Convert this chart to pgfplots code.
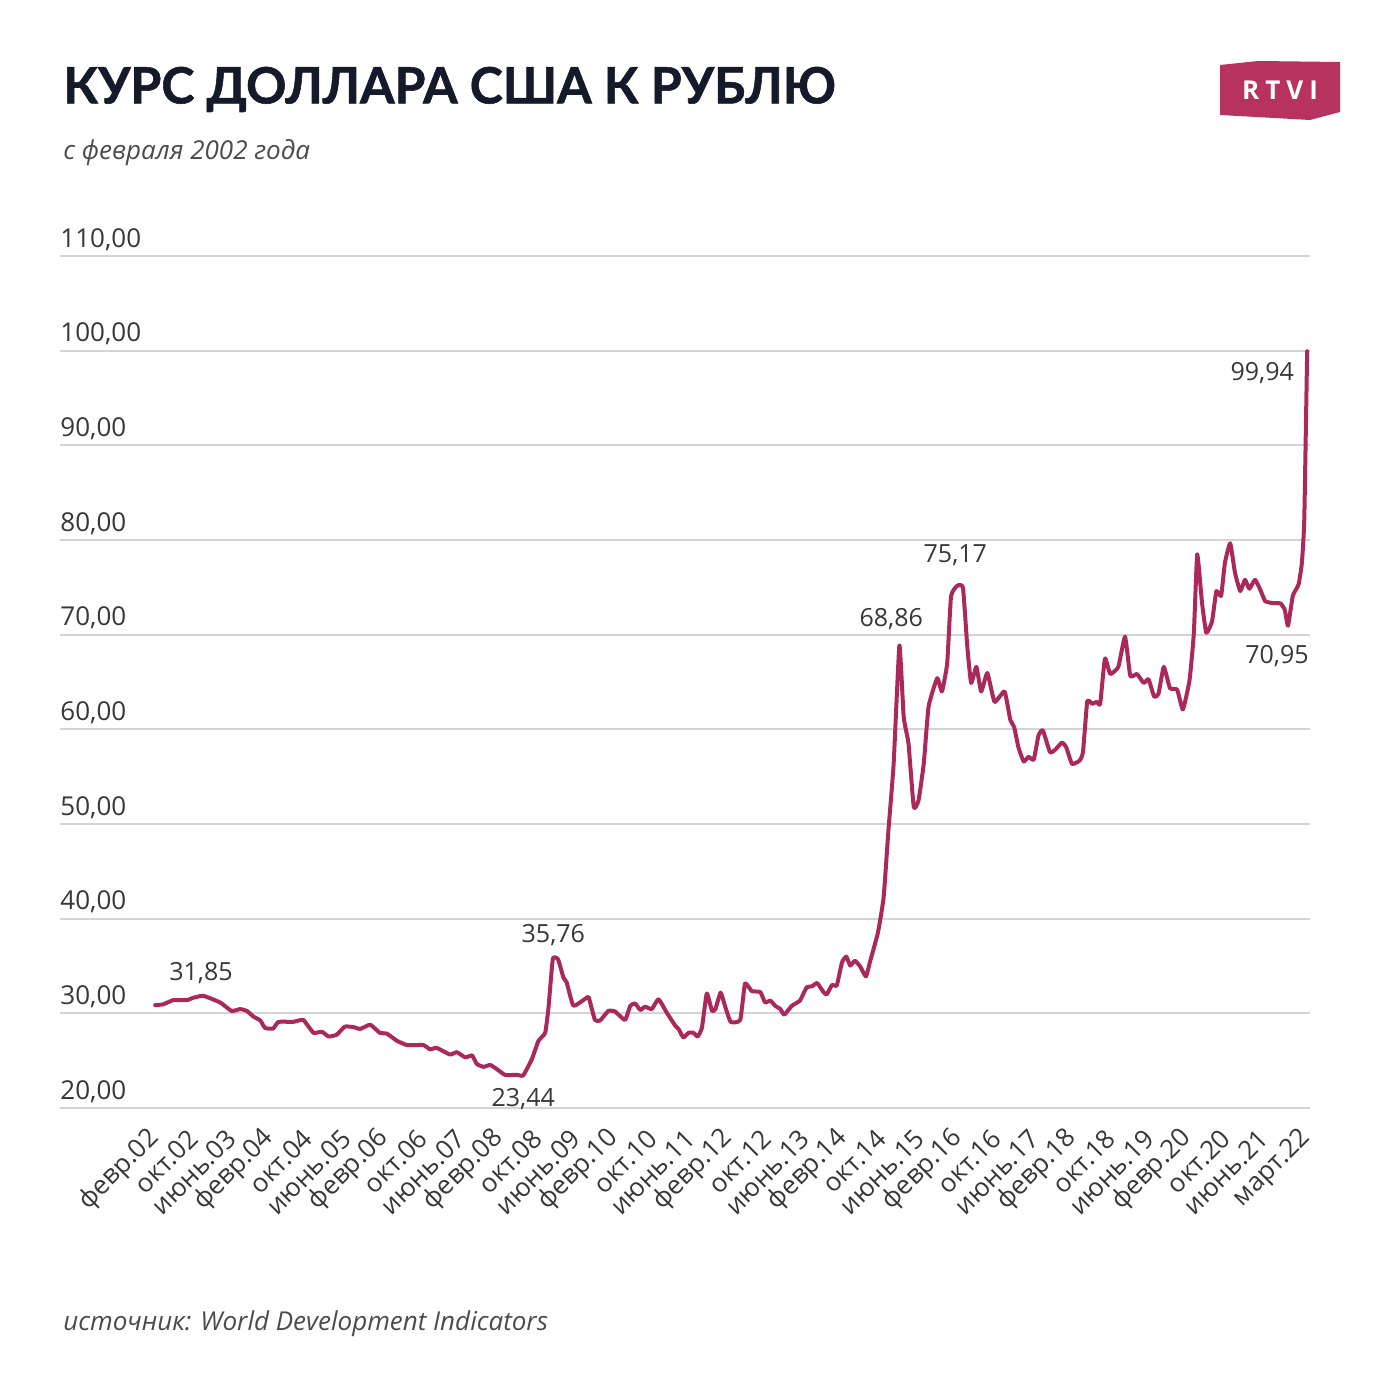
\documentclass[border=0pt]{standalone}
\usepackage{pgfplots}
\pgfplotsset{compat=1.18}
\usepackage{fontspec}
\setmainfont{Open Sans}
\newfontfamily\titlefont[BoldFeatures={FakeBold=1.1}]{Lato}
\definecolor{linec}{RGB}{170,41,90}
\definecolor{logoc}{RGB}{183,50,95}
\definecolor{txt}{RGB}{55,55,55}
\definecolor{subc}{RGB}{75,75,75}
\definecolor{ttl}{RGB}{20,26,42}
\definecolor{gridc}{RGB}{212,212,212}
\begin{document}
\begin{tikzpicture}[x=1pt,y=1pt]
\path[use as bounding box] (0,0) rectangle (700,-700);
\node[anchor=base west, inner sep=0pt, text=ttl, font=\titlefont\bfseries\fontsize{25}{25}\selectfont] at (31.5,-51.7) {КУРС ДОЛЛАРА США К РУБЛЮ};
\node[anchor=base west, inner sep=0pt, text=subc, font=\itshape\fontsize{13}{13}\selectfont] at (31.5,-80) {с февраля 2002 года};
\node[anchor=base west, inner sep=0pt, text=subc, font=\itshape\fontsize{13}{13}\selectfont] at (31.5,-665) {источник: World Development Indicators};
\fill[logoc] (610,-32.5) -- (629,-30.5) -- (670,-31) -- (670,-56) -- (655,-60) -- (610,-57.5) -- cycle;
\node[text=white, inner sep=0pt, font=\bfseries\fontsize{13}{13}\selectfont] at (640,-45) {R\hspace{3pt}T\hspace{3pt}V\hspace{3pt}I};
\begin{axis}[
  at={(30pt,-554pt)}, anchor=south west,
  width=625pt, height=426pt, scale only axis,
  xmin=-19.9, xmax=241.6, ymin=20, ymax=110,
  clip=false,
  axis line style={draw=none},
  major tick length=0pt,
  ytick={20,30,...,110},
  ymajorgrids,
  grid style={gridc, line width=0.9pt},
  /pgf/number format/.cd, fixed, fixed zerofill, precision=2, use comma, 1000 sep={}, assume math mode=true,
  /pgfplots/.cd,
  yticklabel style={anchor=base west, inner sep=0pt, yshift=4.5pt, text=txt, font=\fontsize{13}{13}\selectfont},
  xtick={0,8,16,24,32,40,48,56,64,72,80,88,96,104,112,120,128,136,144,152,160,168,176,184,192,200,208,216,224,232,241},
  xticklabels={февр.02,окт.02,июнь.03,февр.04,окт.04,июнь.05,февр.06,окт.06,июнь.07,февр.08,окт.08,июнь.09,февр.10,окт.10,июнь.11,февр.12,окт.12,июнь.13,февр.14,окт.14,июнь.15,февр.16,окт.16,июнь.17,февр.18,окт.18,июнь.19,февр.20,окт.20,июнь.21,март.22},
  xticklabel style={rotate=45, anchor=east, inner sep=0pt, text=txt, font=\fontsize{13}{13}\selectfont},
  xticklabel shift=13pt,
]
\addplot[linec, line width=2pt, line join=round, line cap=round, smooth, tension=0.25] coordinates {
(0,30.87) (1.7,30.95) (3.8,31.4) (6.7,31.4) (8.0,31.65) (10.1,31.85) (13.6,31.15) (16,30.25) (17.8,30.45) (19.2,30.25)
(20.6,29.65) (22,29.25) (23,28.45) (24.7,28.4) (25.8,29.1) (28.9,29.1) (31,29.3) (33.1,27.95) (34.9,28.05) (36.3,27.55)
(38,27.75) (39.7,28.6) (41.5,28.55) (42.9,28.35) (45,28.8) (47,27.95) (48.5,27.85) (50.6,27.1) (52.7,26.65) (56.1,26.65)
(57.5,26.2) (58.9,26.35) (61.7,25.65) (63.1,25.9) (64.9,25.35) (66.3,25.55) (67.3,24.65) (68.7,24.35) (70.1,24.55) (71.5,24.1)
(73.2,23.5) (75.7,23.5) (77,23.44) (78.8,25.15) (80.2,27.1) (81.6,27.95) (82.3,30.65) (83.2,35.76) (84.3,35.7) (85.4,33.8)
(86.1,33.25) (87.5,30.8) (90,31.55) (90.7,31.7) (92,29.3) (93.1,29.25) (94.8,30.25) (96.2,30.2) (98.3,29.3) (99.4,30.8)
(100.4,31.05) (101.5,30.35) (102.5,30.7) (103.9,30.45) (105.3,31.5) (107,30.1) (108.8,28.7) (109.5,28.35) (110.5,27.45) (111.6,27.95)
(112.6,27.95) (113.5,27.55) (114.4,28.5) (115.4,32.1) (116.5,30.25) (117.2,30.45) (118.3,32.2) (119.2,30.8) (120.4,29.1) (122.4,29.3)
(123.4,33.15) (124.8,32.35) (126.6,32.25) (127.6,31.15) (128.7,31.35) (129.7,30.8) (130.8,30.45) (131.6,29.85) (133.2,30.8) (134.9,31.35)
(136.3,32.75) (137.4,32.85) (138.5,33.2) (139.8,32.25) (140.5,32.0) (141.6,33.0) (142.6,32.95) (143.7,35.4) (144.6,36.0) (145.4,35.05)
(146.4,35.55) (147.5,34.95) (148.7,33.9) (149.6,35.55) (151.2,38.5) (152.4,42.25) (153.4,49.3) (154.5,56.4) (155.7,68.86) (156.6,61.3)
(157.6,58.5) (158.7,51.8) (159.7,52.5) (160.8,56.4) (161.8,62.4) (163.6,65.4) (164.6,64.0) (165.7,67.0) (166.5,74.05) (167.8,75.17)
(169,74.95) (169.9,68.76) (170.7,64.9) (171.8,66.6) (172.8,64.0) (174.1,65.95) (175.6,62.9) (177.7,64.0) (178.9,61.0) (179.7,60.25)
(180.6,58.1) (181.7,56.6) (182.7,57.1) (183.8,56.8) (184.8,59.35) (185.7,59.9) (187.2,57.6) (188.2,57.8) (189.7,58.6) (190.6,58.1)
(191.8,56.35) (193.4,56.7) (194.1,57.6) (195,62.95) (196,62.7) (197,62.9) (197.7,62.7) (198.7,67.5) (199.8,65.85) (201.5,66.6)
(202.9,69.8) (204,65.65) (205.4,65.85) (206.8,64.9) (207.8,65.3) (209,63.45) (209.9,63.75) (211,66.6) (212.3,64.35) (213.8,64.2)
(215,62.1) (216.4,65.2) (217.3,70.2) (218,78.5) (219,73.4) (219.9,70.2) (221.1,71.4) (222,74.6) (223,74.1) (223.8,77.6)
(224.9,79.65) (225.9,76.55) (227,74.6) (228,75.8) (228.9,74.85) (230.1,75.8) (231.2,74.75) (232.2,73.55) (233.6,73.35) (235.4,73.3)
(236.3,72.65) (237,70.95) (238,74.1) (239.2,75.3) (239.9,77.6) (240.4,82.2) (241,99.94)
};
\begin{scope}[every node/.style={text=txt, inner sep=0pt, font=\fontsize{12.5}{12.5}\selectfont}]
\node at (axis cs:9.6,34.26) {31,85};
\node at (axis cs:83.3,38.27) {35,76};
\node at (axis cs:77,20.95) {23,44};
\node at (axis cs:154,71.65) {68,86};
\node at (axis cs:167.4,78.4) {75,17};
\node at (axis cs:231.6,97.6) {99,94};
\node at (axis cs:234.7,67.75) {70,95};
\end{scope}
\end{axis}
\end{tikzpicture}
\end{document}
